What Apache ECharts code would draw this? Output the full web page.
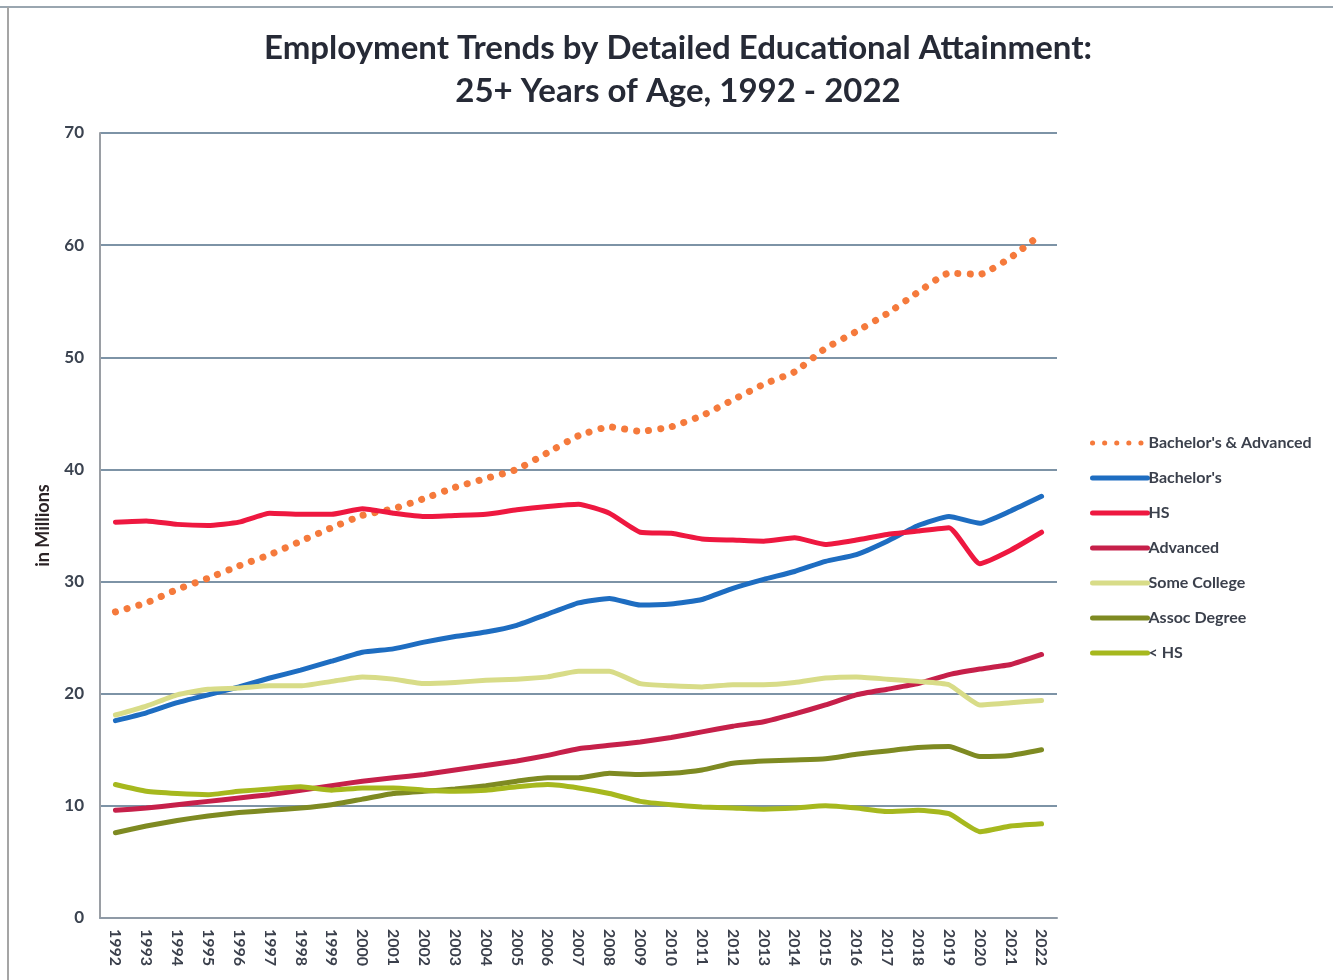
<!DOCTYPE html>
<html>
<head>
<meta charset="utf-8">
<script src="https://cdn.jsdelivr.net/npm/echarts@6/dist/echarts.min.js"></script>
<style>
  html, body { margin: 0; padding: 0; background: #fff; }
  #chart { width: 1333px; height: 980px; }
</style>
</head>
<body>
<div id="chart"></div>
<script>
// Employment of people aged 25+ by educational attainment, in millions
const years = ['1992','1993','1994','1995','1996','1997','1998','1999','2000','2001',
  '2002','2003','2004','2005','2006','2007','2008','2009','2010','2011',
  '2012','2013','2014','2015','2016','2017','2018','2019','2020','2021','2022'];

const bachelorsAndAdvanced = [27.3, 28.1, 29.3, 30.3, 31.4, 32.4, 33.6, 34.8, 35.9, 36.5,
  37.4, 38.4, 39.2, 40.0, 41.5, 43.0, 43.8, 43.4, 43.8, 44.8,
  46.2, 47.6, 48.7, 50.8, 52.3, 53.9, 55.8, 57.5, 57.4, 58.9, 61.0];
const bachelors = [17.6, 18.3, 19.2, 19.9, 20.6, 21.4, 22.1, 22.9, 23.7, 24.0,
  24.6, 25.1, 25.5, 26.1, 27.1, 28.1, 28.5, 27.9, 28.0, 28.4,
  29.4, 30.2, 30.9, 31.8, 32.4, 33.6, 35.0, 35.8, 35.2, 36.3, 37.6];
const hs = [35.3, 35.4, 35.1, 35.0, 35.3, 36.1, 36.0, 36.0, 36.5, 36.1,
  35.8, 35.9, 36.0, 36.4, 36.7, 36.9, 36.1, 34.4, 34.3, 33.8,
  33.7, 33.6, 33.9, 33.3, 33.7, 34.2, 34.5, 34.8, 31.6, 32.8, 34.4];
const advanced = [9.6, 9.8, 10.1, 10.4, 10.7, 11.0, 11.4, 11.8, 12.2, 12.5,
  12.8, 13.2, 13.6, 14.0, 14.5, 15.1, 15.4, 15.7, 16.1, 16.6,
  17.1, 17.5, 18.2, 19.0, 19.9, 20.4, 20.9, 21.7, 22.2, 22.6, 23.5];
const someCollege = [18.1, 18.9, 19.9, 20.4, 20.5, 20.7, 20.7, 21.1, 21.5, 21.3,
  20.9, 21.0, 21.2, 21.3, 21.5, 22.0, 22.0, 20.9, 20.7, 20.6,
  20.8, 20.8, 21.0, 21.4, 21.5, 21.3, 21.1, 20.8, 19.0, 19.2, 19.4];
const assocDegree = [7.6, 8.2, 8.7, 9.1, 9.4, 9.6, 9.8, 10.1, 10.6, 11.1,
  11.3, 11.5, 11.8, 12.2, 12.5, 12.5, 12.9, 12.8, 12.9, 13.2,
  13.8, 14.0, 14.1, 14.2, 14.6, 14.9, 15.2, 15.3, 14.4, 14.5, 15.0];
const lessThanHs = [11.9, 11.3, 11.1, 11.0, 11.3, 11.5, 11.7, 11.4, 11.6, 11.6,
  11.4, 11.3, 11.4, 11.7, 11.9, 11.6, 11.1, 10.4, 10.1, 9.9,
  9.8, 9.7, 9.8, 10.0, 9.8, 9.5, 9.6, 9.3, 7.7, 8.2, 8.4];

const yTicks = [0, 10, 20, 30, 40, 50, 60, 70];

const seriesDefs = [
  { name: "Bachelor's & Advanced", data: bachelorsAndAdvanced, color: '#F57A3C', dotted: true },
  { name: "Bachelor's", data: bachelors, color: '#1E6DC1' },
  { name: 'HS', data: hs, color: '#EE1840' },
  { name: 'Advanced', data: advanced, color: '#C6204A' },
  { name: 'Some College', data: someCollege, color: '#D8DC88' },
  { name: 'Assoc Degree', data: assocDegree, color: '#7E8A22' },
  { name: '< HS', data: lessThanHs, color: '#A6B81E' }
];

const chart = echarts.init(document.getElementById('chart'), null, { renderer: 'canvas' });
const FONT = 'Lato, "Open Sans", sans-serif';

chart.setOption({
  backgroundColor: '#ffffff',
  animation: false,
  title: {
    text: 'Employment Trends by Detailed Educational Attainment:\n25+ Years of Age, 1992 - 2022',
    left: 673,
    textAlign: 'center',
    top: 22,
    textStyle: {
      fontFamily: FONT,
      fontWeight: 'bold',
      fontSize: 33,
      lineHeight: 43,
      color: '#262a36'
    }
  },
  legend: {
    orient: 'vertical',
    left: 1085,
    top: 430,
    itemGap: 19,
    itemWidth: 55,
    itemHeight: 16,
    itemStyle: { opacity: 0 },
    lineStyle: { width: 5 },
    textStyle: { fontFamily: FONT, fontWeight: 'bold', fontSize: 16, color: '#3b404c', padding: [0, 0, 0, -4] },
    data: seriesDefs.map(s => s.name)
  },
  grid: { left: 100, top: 133, width: 957, height: 785, containLabel: false },
  xAxis: {
    type: 'category',
    data: years,
    boundaryGap: true,
    axisLine: { show: true, lineStyle: { color: '#8f9aa6', width: 2 } },
    axisTick: { show: false },
    axisLabel: {
      rotate: -90,
      interval: 0,
      margin: 11,
      fontFamily: FONT,
      fontWeight: 'bold',
      fontSize: 16,
      color: '#3b404c'
    }
  },
  yAxis: {
    type: 'value',
    min: yTicks[0],
    max: yTicks[yTicks.length - 1],
    interval: 10,
    name: 'in Millions',
    nameLocation: 'middle',
    nameGap: 48,
    nameRotate: 90,
    nameTextStyle: { fontFamily: FONT, fontWeight: 'bold', fontSize: 18, color: '#2b2326' },
    axisLine: { show: true, lineStyle: { color: '#9a9ea4', width: 2 } },
    axisTick: { show: false },
    axisLabel: {
      margin: 16,
      fontFamily: FONT,
      fontWeight: 'bold',
      fontSize: 17,
      color: '#3b4350'
    },
    splitLine: { show: true, lineStyle: { color: '#7d93a6', width: 2 } }
  },
  series: seriesDefs.map(s => ({
    name: s.name,
    type: 'line',
    data: s.data,
    symbol: 'none',
    smooth: 0.15,
    color: s.color,
    lineStyle: s.dotted
      ? { color: s.color, width: 7, type: [0.1, 12], cap: 'round' }
      : { color: s.color, width: 5, cap: 'round', join: 'round' }
  })),
  graphic: [
    { type: 'line', shape: { x1: 0, y1: 7, x2: 1333, y2: 7 }, style: { stroke: '#9aa6b0', lineWidth: 2 } },
    { type: 'line', shape: { x1: 8, y1: 7, x2: 8, y2: 980 }, style: { stroke: '#a5a5a5', lineWidth: 2 } }
  ]
});
</script>
</body>
</html>
